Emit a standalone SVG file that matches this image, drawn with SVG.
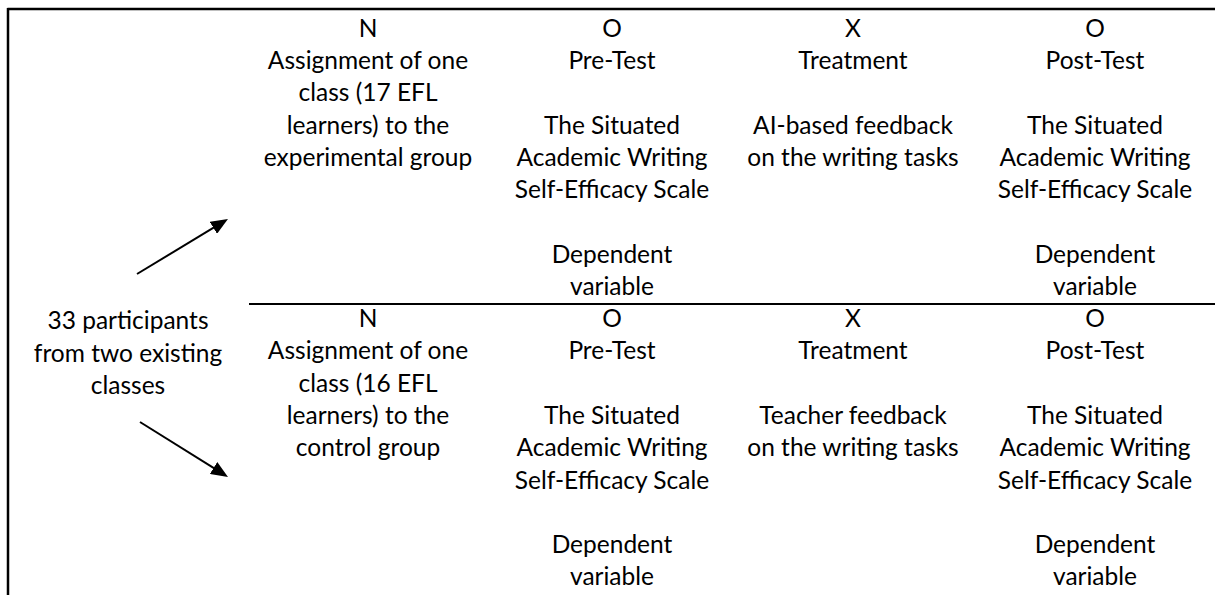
<svg xmlns="http://www.w3.org/2000/svg" width="1215" height="595" viewBox="0 0 1215 595">
  <style>
    .t { font-family: Lato, "Liberation Sans", sans-serif; font-size: 24.5px; fill: #000; text-anchor: middle; }
    .rule { stroke: #000; fill: none; }
    .arrow { stroke: #000; stroke-width: 2; fill: none; marker-end: url(#head); }
  </style>
  <defs>
    <marker id="head" viewBox="0 0 17 14" refX="7" refY="7" markerWidth="17" markerHeight="14" markerUnits="userSpaceOnUse" orient="auto">
      <path d="M0,0 L17,7 L0,14 Z" fill="#000"/>
    </marker>
  </defs>

  <!-- frame and group divider -->
  <g id="frame">
    <line class="rule" x1="7.5" y1="9" x2="1215" y2="9" stroke-width="2.5"/>
    <line class="rule" x1="8" y1="8" x2="8" y2="595" stroke-width="2.5"/>
    <line class="rule" x1="249" y1="304" x2="1215" y2="304" stroke-width="2"/>
  </g>

  <!-- sample -->
  <g id="sample">
    <text class="t" x="128" y="329">33 participants</text>
    <text class="t" x="128" y="361.5">from two existing</text>
    <text class="t" x="128" y="393.5">classes</text>
  </g>

  <!-- experimental group -->
  <g id="exp-assignment">
    <text class="t" x="368" y="36.7">N</text>
    <text class="t" x="368" y="69">Assignment of one</text>
    <text class="t" x="368" y="101.3">class (17 EFL</text>
    <text class="t" x="368" y="133.6">learners) to the</text>
    <text class="t" x="368" y="165.9">experimental group</text>
  </g>
  <g id="exp-pretest">
    <text class="t" x="612" y="36.7">O</text>
    <text class="t" x="612" y="69">Pre-Test</text>
    <text class="t" x="612" y="133.6">The Situated</text>
    <text class="t" x="612" y="165.9">Academic Writing</text>
    <text class="t" x="612" y="198.2">Self-Efficacy Scale</text>
    <text class="t" x="612" y="262.8">Dependent</text>
    <text class="t" x="612" y="295.1">variable</text>
  </g>
  <g id="exp-treatment">
    <text class="t" x="853" y="36.7">X</text>
    <text class="t" x="853" y="69">Treatment</text>
    <text class="t" x="853" y="133.6">AI-based feedback</text>
    <text class="t" x="853" y="165.9">on the writing tasks</text>
  </g>
  <g id="exp-posttest">
    <text class="t" x="1095" y="36.7">O</text>
    <text class="t" x="1095" y="69">Post-Test</text>
    <text class="t" x="1095" y="133.6">The Situated</text>
    <text class="t" x="1095" y="165.9">Academic Writing</text>
    <text class="t" x="1095" y="198.2">Self-Efficacy Scale</text>
    <text class="t" x="1095" y="262.8">Dependent</text>
    <text class="t" x="1095" y="295.1">variable</text>
  </g>

  <!-- control group -->
  <g id="ctl-assignment">
    <text class="t" x="368" y="327">N</text>
    <text class="t" x="368" y="359.3">Assignment of one</text>
    <text class="t" x="368" y="391.6">class (16 EFL</text>
    <text class="t" x="368" y="423.9">learners) to the</text>
    <text class="t" x="368" y="456.2">control group</text>
  </g>
  <g id="ctl-pretest">
    <text class="t" x="612" y="327">O</text>
    <text class="t" x="612" y="359.3">Pre-Test</text>
    <text class="t" x="612" y="423.9">The Situated</text>
    <text class="t" x="612" y="456.2">Academic Writing</text>
    <text class="t" x="612" y="488.5">Self-Efficacy Scale</text>
    <text class="t" x="612" y="553.1">Dependent</text>
    <text class="t" x="612" y="585.4">variable</text>
  </g>
  <g id="ctl-treatment">
    <text class="t" x="853" y="327">X</text>
    <text class="t" x="853" y="359.3">Treatment</text>
    <text class="t" x="853" y="423.9">Teacher feedback</text>
    <text class="t" x="853" y="456.2">on the writing tasks</text>
  </g>
  <g id="ctl-posttest">
    <text class="t" x="1095" y="327">O</text>
    <text class="t" x="1095" y="359.3">Post-Test</text>
    <text class="t" x="1095" y="423.9">The Situated</text>
    <text class="t" x="1095" y="456.2">Academic Writing</text>
    <text class="t" x="1095" y="488.5">Self-Efficacy Scale</text>
    <text class="t" x="1095" y="553.1">Dependent</text>
    <text class="t" x="1095" y="585.4">variable</text>
  </g>

  <!-- allocation arrows -->
  <g id="connectors">
    <line class="arrow" x1="137" y1="274" x2="219.4" y2="224.2"/>
    <line class="arrow" x1="140" y1="422" x2="219.5" y2="471.7"/>
  </g>
</svg>
